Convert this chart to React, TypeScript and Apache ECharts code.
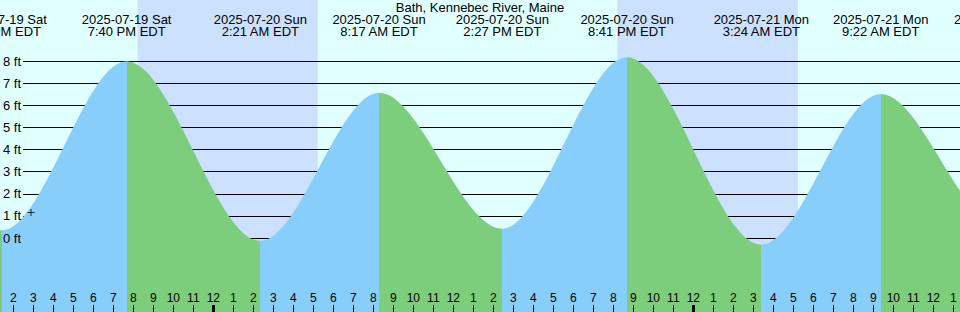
import { useEffect, useRef } from "react";
import * as echarts from "echarts";

// ---- Data ----
const eventDates = [
  "2025-07-19 Sat", "2025-07-19 Sat", "2025-07-19 Sat", "2025-07-19 Sat",
  "2025-07-20 Sun", "2025-07-20 Sun", "2025-07-20 Sun", "2025-07-20 Sun",
  "2025-07-21 Mon", "2025-07-21 Mon", "2025-07-21 Mon", "2025-07-21 Mon",
];
const eventTimes = [
  "1:05 AM EDT", "7:13 AM EDT", "1:26 PM EDT", "7:40 PM EDT",
  "2:21 AM EDT", "8:17 AM EDT", "2:27 PM EDT", "8:41 PM EDT",
  "3:24 AM EDT", "9:22 AM EDT", "3:25 PM EDT", "9:45 PM EDT",
];
const eventHeights = [-0.1, 6.6, 0.35, 8.0, -0.13, 6.57, 0.42, 8.18, -0.3, 6.52, 0.5, 8.3];

const nightStarts = ["2025-07-19 8:13 PM", "2025-07-20 8:12 PM"];
const nightEnds = ["2025-07-20 5:13 AM", "2025-07-21 5:14 AM"];

const nowStamp = "2025-07-19 2:53 PM";
const nowHeight = 1.15;

const depthTicks = [0, 1, 2, 3, 4, 5, 6, 7, 8];
const firstHour = 14;
const lastHour = 61;

const TITLE = "Bath, Kennebec River, Maine";

// ---- Styling / layout constants ----
const FONT = "Liberation Sans";
const DAY = "#e0ffff";
const NIGHT = "#cce0ff";
const RISING = "#87cefa";
const FALLING = "#7ccd7c";
const W = 960;
const H = 312;
const ZERO_Y = 238;
const PX_PER_FT = 22.1;
const X_MIN = 13 + 1 / 3;
const X_MAX = X_MIN + 48;
const Y_MIN = -(H - ZERO_Y) / PX_PER_FT;
const Y_MAX = ZERO_Y / PX_PER_FT;

function toHours(date: string, time: string): number {
  const day = parseInt(date.slice(8, 10), 10) - 19;
  const m = time.match(/(\d+):(\d+)\s*(AM|PM)/)!;
  const hr = (parseInt(m[1], 10) % 12) + (m[3] === "PM" ? 12 : 0);
  return day * 24 + hr + parseInt(m[2], 10) / 60;
}
function stampHours(s: string): number {
  return toHours(s.slice(0, 10), s.slice(11));
}

const eventHours = eventDates.map((d, i) => toHours(d, eventTimes[i]));
const hourTicks: number[] = [];
for (let h = firstHour; h <= lastHour; h++) hourTicks.push(h);
const midnightTicks = hourTicks.filter((h) => h % 24 === 0);

export default function App() {
  const ref = useRef<HTMLDivElement>(null);
  useEffect(() => {
    if (!ref.current) return;
    const chart = echarts.init(ref.current, undefined, { renderer: "svg" });

    const pieces = [] as any[];
    for (let i = 0; i < eventHours.length - 1; i++) {
      pieces.push({
        gte: eventHours[i],
        lt: eventHours[i + 1],
        color: eventHeights[i + 1] > eventHeights[i] ? RISING : FALLING,
      });
    }

    const option: any = {
      animation: false,
      backgroundColor: DAY,
      textStyle: { fontFamily: FONT },
      title: {
        text: TITLE,
        left: "center",
        top: 1,
        padding: 0,
        textStyle: { fontSize: 13, fontWeight: "normal", color: "#000", fontFamily: FONT },
      },
      grid: [
        { left: 0, right: 0, top: 0, bottom: 0 },
        { left: 22, right: 0, top: ZERO_Y - 8 * PX_PER_FT, bottom: H - ZERO_Y },
      ],
      xAxis: [
        {
          type: "value", gridIndex: 0, min: X_MIN, max: X_MAX, position: "bottom", z: 5,
          axisLine: { show: false, onZero: false },
          splitLine: { show: false },
          axisTick: { show: true, inside: true, length: 7, customValues: hourTicks, lineStyle: { color: "#000", width: 1 } },
          axisLabel: {
            show: true, inside: true, margin: 8, customValues: hourTicks, color: "#000", fontSize: 12, fontFamily: FONT,
            formatter: (v: number) => String(((Math.round(v) % 12) + 11) % 12 + 1),
          },
        },
        {
          type: "value", gridIndex: 0, min: X_MIN, max: X_MAX, position: "bottom", z: 5,
          axisLine: { show: false, onZero: false },
          splitLine: { show: false },
          axisTick: { show: true, inside: true, length: 7, customValues: midnightTicks, lineStyle: { color: "#000", width: 3 } },
          axisLabel: { show: false },
        },
        { type: "value", gridIndex: 1, min: 0, max: 1, show: false },
      ],
      yAxis: [
        { type: "value", gridIndex: 0, min: Y_MIN, max: Y_MAX, show: false },
        {
          type: "value", gridIndex: 1, min: 0, max: 8, interval: 1, position: "left", z: 2,
          axisLine: { show: false, onZero: false }, axisTick: { show: false }, axisLabel: { show: false },
          splitLine: { show: true, lineStyle: { color: "#000", width: 1 } },
        },
        {
          type: "value", gridIndex: 1, min: 0, max: 8, interval: 1, position: "left", z: 5,
          axisLine: { show: false, onZero: false }, axisTick: { show: false }, splitLine: { show: false },
          axisLabel: { show: true, margin: 2, color: "#000", fontSize: 13, fontFamily: FONT, formatter: "{value} ft", customValues: depthTicks },
        },
      ],
      visualMap: {
        type: "piecewise", show: false, dimension: 0, seriesIndex: 1, pieces,
        outOfRange: { color: FALLING },
      },
      series: [
        {
          type: "custom", xAxisIndex: 0, yAxisIndex: 0, z: 1, silent: true, clip: false,
          data: nightStarts.map((s, i) => [stampHours(s), stampHours(nightEnds[i])]),
          renderItem: (_p: any, api: any) => {
            const a = api.coord([api.value(0), Y_MAX]);
            const b = api.coord([api.value(1), Y_MIN]);
            return { type: "rect", shape: { x: a[0], y: a[1], width: b[0] - a[0], height: b[1] - a[1] }, style: { fill: NIGHT } };
          },
        },
        {
          type: "line", xAxisIndex: 0, yAxisIndex: 0, z: 3, silent: true,
          data: eventHours.map((t, i) => [t, eventHeights[i]]),
          smooth: 1 / 3, smoothMonotone: "x", showSymbol: false, symbol: "none",
          lineStyle: { width: 0, opacity: 0 },
          areaStyle: { opacity: 1, origin: "start" },
        },
        {
          type: "scatter", xAxisIndex: 0, yAxisIndex: 0, z: 4, silent: true,
          data: [[stampHours(nowStamp), nowHeight]],
          symbol: "path://M3 0h1v7H3zM0 3h7v1H0z", symbolSize: 7,
          itemStyle: { color: "#000" },
        },
        {
          type: "custom", xAxisIndex: 0, yAxisIndex: 0, z: 5, silent: true, clip: false,
          data: eventHours.map((t, i) => [t, eventHeights[i]]),
          renderItem: (p: any, api: any) => {
            const i = p.dataIndex;
            const x = api.coord([api.value(0), 0])[0];
            if (x < -60 || x > W + 60) return null;
            return {
              type: "text",
              x,
              y: 25.7,
              style: {
                text: eventDates[i] + "\n" + eventTimes[i],
                fontSize: 13, fontFamily: FONT, fill: "#000",
                align: "center", verticalAlign: "middle", lineHeight: 11.8,
              },
            };
          },
        },
      ],
    };
    chart.setOption(option);
    return () => chart.dispose();
  }, []);
  return <div ref={ref} style={{ position: "fixed", left: 0, top: 0, width: W, height: H }} />;
}
